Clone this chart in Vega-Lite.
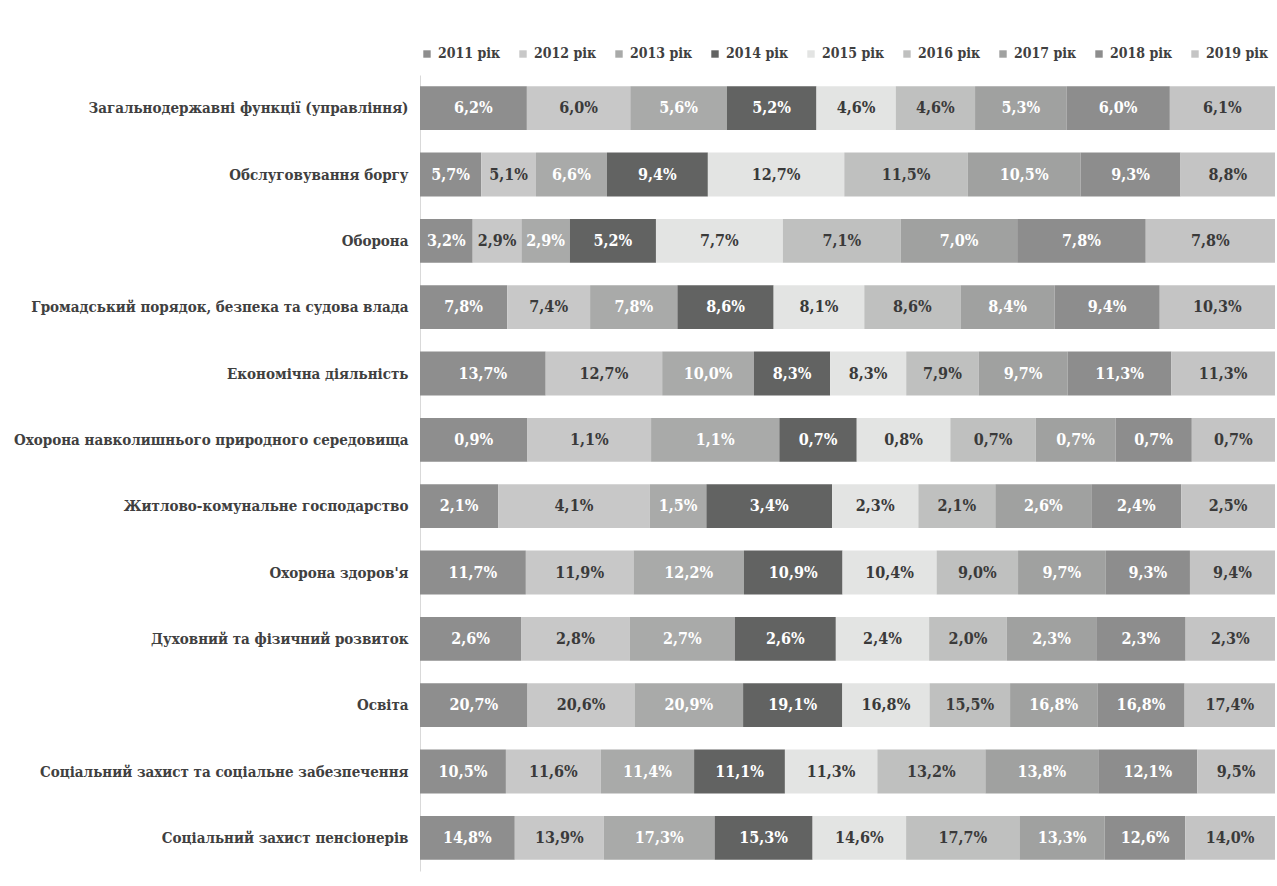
{
  "$schema": "https://vega.github.io/schema/vega-lite/v6.json",
  "width": 855,
  "height": 796,
  "autosize": "none",
  "padding": {"left": 420, "top": 75, "right": 2, "bottom": 15},
  "background": "white",
  "config": {
    "locale": {"number": {"decimal": ",", "thousands": " ", "grouping": [3], "currency": ["", ""]}},
    "view": {"stroke": null},
    "font": "DejaVu Serif Condensed, DejaVu Serif"
  },
  "datasets": {
    "shares": [
      {"category": "Загальнодержавні функції (управління)", "year": "2011 рік", "share": 0.062},
      {"category": "Загальнодержавні функції (управління)", "year": "2012 рік", "share": 0.060},
      {"category": "Загальнодержавні функції (управління)", "year": "2013 рік", "share": 0.056},
      {"category": "Загальнодержавні функції (управління)", "year": "2014 рік", "share": 0.052},
      {"category": "Загальнодержавні функції (управління)", "year": "2015 рік", "share": 0.046},
      {"category": "Загальнодержавні функції (управління)", "year": "2016 рік", "share": 0.046},
      {"category": "Загальнодержавні функції (управління)", "year": "2017 рік", "share": 0.053},
      {"category": "Загальнодержавні функції (управління)", "year": "2018 рік", "share": 0.060},
      {"category": "Загальнодержавні функції (управління)", "year": "2019 рік", "share": 0.061},
      {"category": "Обслуговування боргу", "year": "2011 рік", "share": 0.057},
      {"category": "Обслуговування боргу", "year": "2012 рік", "share": 0.051},
      {"category": "Обслуговування боргу", "year": "2013 рік", "share": 0.066},
      {"category": "Обслуговування боргу", "year": "2014 рік", "share": 0.094},
      {"category": "Обслуговування боргу", "year": "2015 рік", "share": 0.127},
      {"category": "Обслуговування боргу", "year": "2016 рік", "share": 0.115},
      {"category": "Обслуговування боргу", "year": "2017 рік", "share": 0.105},
      {"category": "Обслуговування боргу", "year": "2018 рік", "share": 0.093},
      {"category": "Обслуговування боргу", "year": "2019 рік", "share": 0.088},
      {"category": "Оборона", "year": "2011 рік", "share": 0.0318},
      {"category": "Оборона", "year": "2012 рік", "share": 0.0294},
      {"category": "Оборона", "year": "2013 рік", "share": 0.0292},
      {"category": "Оборона", "year": "2014 рік", "share": 0.052},
      {"category": "Оборона", "year": "2015 рік", "share": 0.0766},
      {"category": "Оборона", "year": "2016 рік", "share": 0.0712},
      {"category": "Оборона", "year": "2017 рік", "share": 0.0702},
      {"category": "Оборона", "year": "2018 рік", "share": 0.0776},
      {"category": "Оборона", "year": "2019 рік", "share": 0.078},
      {"category": "Громадський порядок, безпека та судова влада\u00a0", "year": "2011 рік", "share": 0.078},
      {"category": "Громадський порядок, безпека та судова влада\u00a0", "year": "2012 рік", "share": 0.074},
      {"category": "Громадський порядок, безпека та судова влада\u00a0", "year": "2013 рік", "share": 0.078},
      {"category": "Громадський порядок, безпека та судова влада\u00a0", "year": "2014 рік", "share": 0.086},
      {"category": "Громадський порядок, безпека та судова влада\u00a0", "year": "2015 рік", "share": 0.081},
      {"category": "Громадський порядок, безпека та судова влада\u00a0", "year": "2016 рік", "share": 0.086},
      {"category": "Громадський порядок, безпека та судова влада\u00a0", "year": "2017 рік", "share": 0.084},
      {"category": "Громадський порядок, безпека та судова влада\u00a0", "year": "2018 рік", "share": 0.094},
      {"category": "Громадський порядок, безпека та судова влада\u00a0", "year": "2019 рік", "share": 0.103},
      {"category": "Економічна діяльність\u00a0", "year": "2011 рік", "share": 0.137},
      {"category": "Економічна діяльність\u00a0", "year": "2012 рік", "share": 0.127},
      {"category": "Економічна діяльність\u00a0", "year": "2013 рік", "share": 0.100},
      {"category": "Економічна діяльність\u00a0", "year": "2014 рік", "share": 0.083},
      {"category": "Економічна діяльність\u00a0", "year": "2015 рік", "share": 0.083},
      {"category": "Економічна діяльність\u00a0", "year": "2016 рік", "share": 0.079},
      {"category": "Економічна діяльність\u00a0", "year": "2017 рік", "share": 0.097},
      {"category": "Економічна діяльність\u00a0", "year": "2018 рік", "share": 0.113},
      {"category": "Економічна діяльність\u00a0", "year": "2019 рік", "share": 0.113},
      {"category": "Охорона навколишнього природного середовища\u00a0", "year": "2011 рік", "share": 0.0093},
      {"category": "Охорона навколишнього природного середовища\u00a0", "year": "2012 рік", "share": 0.0107},
      {"category": "Охорона навколишнього природного середовища\u00a0", "year": "2013 рік", "share": 0.0111},
      {"category": "Охорона навколишнього природного середовища\u00a0", "year": "2014 рік", "share": 0.0067},
      {"category": "Охорона навколишнього природного середовища\u00a0", "year": "2015 рік", "share": 0.0081},
      {"category": "Охорона навколишнього природного середовища\u00a0", "year": "2016 рік", "share": 0.0074},
      {"category": "Охорона навколишнього природного середовища\u00a0", "year": "2017 рік", "share": 0.0069},
      {"category": "Охорона навколишнього природного середовища\u00a0", "year": "2018 рік", "share": 0.0066},
      {"category": "Охорона навколишнього природного середовища\u00a0", "year": "2019 рік", "share": 0.0072},
      {"category": "Житлово-комунальне господарство", "year": "2011 рік", "share": 0.0210},
      {"category": "Житлово-комунальне господарство", "year": "2012 рік", "share": 0.0408},
      {"category": "Житлово-комунальне господарство", "year": "2013 рік", "share": 0.0152},
      {"category": "Житлово-комунальне господарство", "year": "2014 рік", "share": 0.0338},
      {"category": "Житлово-комунальне господарство", "year": "2015 рік", "share": 0.0232},
      {"category": "Житлово-комунальне господарство", "year": "2016 рік", "share": 0.0207},
      {"category": "Житлово-комунальне господарство", "year": "2017 рік", "share": 0.0258},
      {"category": "Житлово-комунальне господарство", "year": "2018 рік", "share": 0.0242},
      {"category": "Житлово-комунальне господарство", "year": "2019 рік", "share": 0.0252},
      {"category": "Охорона здоров'я", "year": "2011 рік", "share": 0.117},
      {"category": "Охорона здоров'я", "year": "2012 рік", "share": 0.119},
      {"category": "Охорона здоров'я", "year": "2013 рік", "share": 0.122},
      {"category": "Охорона здоров'я", "year": "2014 рік", "share": 0.109},
      {"category": "Охорона здоров'я", "year": "2015 рік", "share": 0.104},
      {"category": "Охорона здоров'я", "year": "2016 рік", "share": 0.090},
      {"category": "Охорона здоров'я", "year": "2017 рік", "share": 0.097},
      {"category": "Охорона здоров'я", "year": "2018 рік", "share": 0.093},
      {"category": "Охорона здоров'я", "year": "2019 рік", "share": 0.094},
      {"category": "Духовний та фізичний розвиток\u00a0", "year": "2011 рік", "share": 0.026},
      {"category": "Духовний та фізичний розвиток\u00a0", "year": "2012 рік", "share": 0.028},
      {"category": "Духовний та фізичний розвиток\u00a0", "year": "2013 рік", "share": 0.027},
      {"category": "Духовний та фізичний розвиток\u00a0", "year": "2014 рік", "share": 0.026},
      {"category": "Духовний та фізичний розвиток\u00a0", "year": "2015 рік", "share": 0.024},
      {"category": "Духовний та фізичний розвиток\u00a0", "year": "2016 рік", "share": 0.020},
      {"category": "Духовний та фізичний розвиток\u00a0", "year": "2017 рік", "share": 0.023},
      {"category": "Духовний та фізичний розвиток\u00a0", "year": "2018 рік", "share": 0.023},
      {"category": "Духовний та фізичний розвиток\u00a0", "year": "2019 рік", "share": 0.023},
      {"category": "Освіта", "year": "2011 рік", "share": 0.207},
      {"category": "Освіта", "year": "2012 рік", "share": 0.206},
      {"category": "Освіта", "year": "2013 рік", "share": 0.209},
      {"category": "Освіта", "year": "2014 рік", "share": 0.191},
      {"category": "Освіта", "year": "2015 рік", "share": 0.168},
      {"category": "Освіта", "year": "2016 рік", "share": 0.155},
      {"category": "Освіта", "year": "2017 рік", "share": 0.168},
      {"category": "Освіта", "year": "2018 рік", "share": 0.168},
      {"category": "Освіта", "year": "2019 рік", "share": 0.174},
      {"category": "Соціальний захист та соціальне забезпечення", "year": "2011 рік", "share": 0.105},
      {"category": "Соціальний захист та соціальне забезпечення", "year": "2012 рік", "share": 0.116},
      {"category": "Соціальний захист та соціальне забезпечення", "year": "2013 рік", "share": 0.114},
      {"category": "Соціальний захист та соціальне забезпечення", "year": "2014 рік", "share": 0.111},
      {"category": "Соціальний захист та соціальне забезпечення", "year": "2015 рік", "share": 0.113},
      {"category": "Соціальний захист та соціальне забезпечення", "year": "2016 рік", "share": 0.132},
      {"category": "Соціальний захист та соціальне забезпечення", "year": "2017 рік", "share": 0.138},
      {"category": "Соціальний захист та соціальне забезпечення", "year": "2018 рік", "share": 0.121},
      {"category": "Соціальний захист та соціальне забезпечення", "year": "2019 рік", "share": 0.095},
      {"category": "Соціальний захист пенсіонерів", "year": "2011 рік", "share": 0.148},
      {"category": "Соціальний захист пенсіонерів", "year": "2012 рік", "share": 0.139},
      {"category": "Соціальний захист пенсіонерів", "year": "2013 рік", "share": 0.173},
      {"category": "Соціальний захист пенсіонерів", "year": "2014 рік", "share": 0.153},
      {"category": "Соціальний захист пенсіонерів", "year": "2015 рік", "share": 0.146},
      {"category": "Соціальний захист пенсіонерів", "year": "2016 рік", "share": 0.177},
      {"category": "Соціальний захист пенсіонерів", "year": "2017 рік", "share": 0.133},
      {"category": "Соціальний захист пенсіонерів", "year": "2018 рік", "share": 0.126},
      {"category": "Соціальний захист пенсіонерів", "year": "2019 рік", "share": 0.140}
    ]
  },
  "data": {"name": "shares"},
  "transform": [
    {"stack": "share", "groupby": ["category"], "offset": "normalize", "sort": [{"field": "year", "order": "ascending"}], "as": ["x0", "x1"]},
    {"calculate": "(datum.x0 + datum.x1) / 2", "as": "xm"}
  ],
  "encoding": {
    "y": {
      "field": "category",
      "type": "nominal",
      "sort": null,
      "title": null,
      "scale": {"paddingInner": 0.34, "paddingOuter": 0.17},
      "axis": {
        "ticks": false,
        "domain": true,
        "domainColor": "#d9d9d9",
        "domainWidth": 1,
        "labelFont": "DejaVu Serif Condensed, DejaVu Serif",
        "labelFontWeight": "bold",
        "labelFontSize": 15,
        "labelColor": "#404040",
        "labelPadding": 12,
        "labelLimit": 500
      }
    }
  },
  "layer": [
    {
      "mark": {"type": "bar"},
      "encoding": {
        "x": {"field": "x0", "type": "quantitative", "axis": null, "scale": {"domain": [0, 1], "nice": false, "zero": true}},
        "x2": {"field": "x1"},
        "color": {
          "field": "year",
          "type": "nominal",
          "scale": {
            "domain": ["2011 рік", "2012 рік", "2013 рік", "2014 рік", "2015 рік", "2016 рік", "2017 рік", "2018 рік", "2019 рік"],
            "range": ["#8e8e8e", "#c8c8c8", "#a9aaa9", "#626362", "#e3e4e3", "#bfc0bf", "#a0a1a0", "#8d8d8d", "#c4c4c4"]
          },
          "legend": {
            "title": null,
            "orient": "top",
            "direction": "horizontal",
            "columns": 9,
            "symbolType": "square",
            "symbolSize": 55,
            "symbolStrokeWidth": 0,
            "labelFont": "DejaVu Serif Condensed, DejaVu Serif",
            "labelFontWeight": "bold",
            "labelFontSize": 14,
            "labelColor": "#404040",
            "columnPadding": 15,
            "offset": 14,
            "padding": 0
          }
        }
      }
    },
    {
      "mark": {"type": "text", "font": "DejaVu Serif Condensed, DejaVu Serif", "fontWeight": "bold", "fontSize": 16, "baseline": "middle", "align": "center"},
      "encoding": {
        "x": {"field": "xm", "type": "quantitative"},
        "text": {"field": "share", "type": "quantitative", "format": ".1%"},
        "color": {
          "condition": {"test": "indexof(['2011 рік','2013 рік','2014 рік','2017 рік','2018 рік'], datum.year) >= 0", "value": "#ffffff"},
          "value": "#3a3a3a"
        }
      }
    }
  ]
}
